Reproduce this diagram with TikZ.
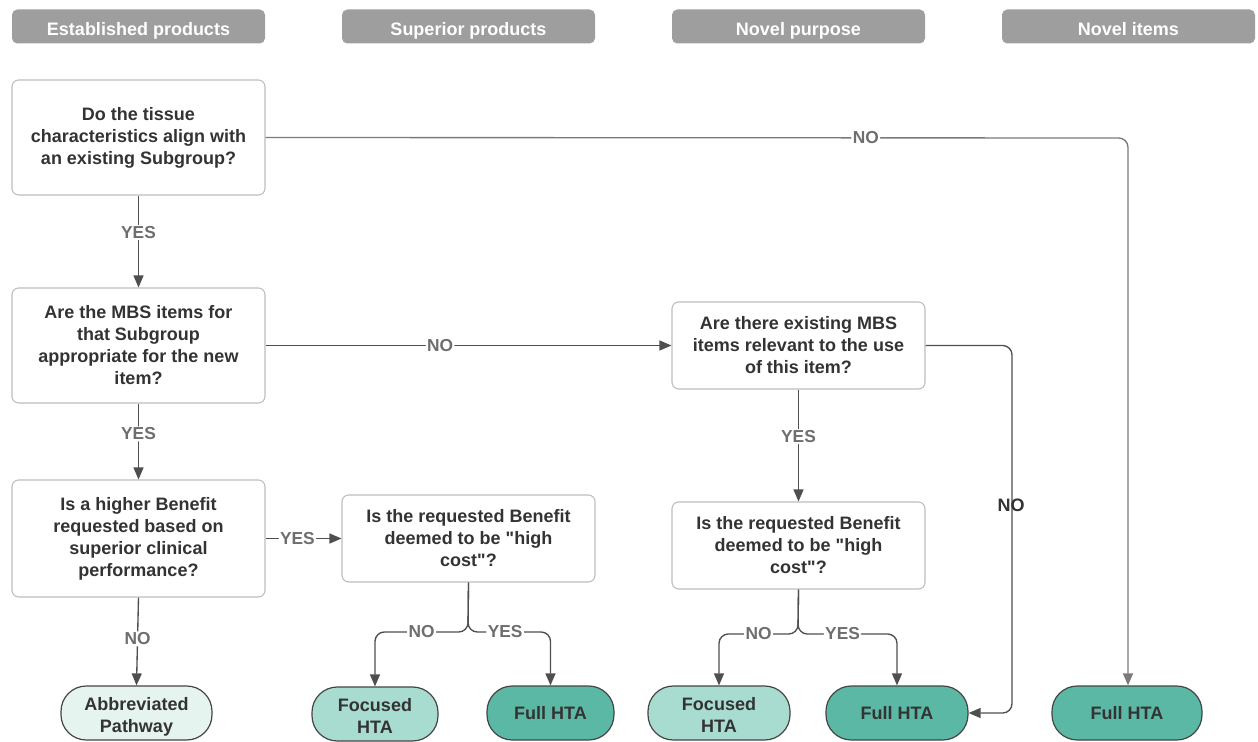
\documentclass[tikz,border=0pt]{standalone}
\usepackage{fontspec}
\setmainfont{Liberation Sans}[Ligatures=TeXOff]
\usetikzlibrary{arrows.meta}
\definecolor{hdr}{HTML}{9E9E9E}
\definecolor{bxline}{HTML}{BDBDBD}
\definecolor{txt}{HTML}{333333}
\definecolor{lbl}{HTML}{6E6E6E}
\definecolor{conn}{HTML}{4F4F4F}
\definecolor{connl}{HTML}{7A7A7A}
\definecolor{tlight}{HTML}{E6F4F0}
\definecolor{tmid}{HTML}{A8DCD1}
\definecolor{tdark}{HTML}{5BB8A5}
\definecolor{tline}{HTML}{444444}
\tikzset{
  hdrbox/.style={fill=hdr, rounded corners=4pt, minimum width=189.75pt, minimum height=25.5pt, text=white, font=\bfseries\fontsize{13.5}{15}\selectfont, inner sep=0pt, text height=13pt, text depth=0pt},
  qbox/.style={draw=bxline, line width=0.8pt, fill=white, rounded corners=5pt, minimum width=189.75pt, align=center, text=txt, font=\bfseries\fontsize{13.5}{16.5}\selectfont, inner sep=0pt},
  term/.style={draw=tline, line width=0.9pt, rounded corners=19pt, minimum height=40.5pt, align=center, text=txt, font=\bfseries\fontsize{13.5}{16.5}\selectfont, inner sep=0pt},
  twoline/.style={text height=28.5pt, text depth=0pt},
  conn/.style={draw=conn, line width=1pt, -{Triangle[length=9pt,width=7.5pt]}, rounded corners=7pt},
  lab/.style={fill=white, text=lbl, font=\bfseries\fontsize{13}{14}\selectfont, inner sep=1pt},
}
\begin{document}
\begin{tikzpicture}[x=0.75pt,y=-0.75pt]
\useasboundingbox (0,0) rectangle (1258,742);
% headers
\node[hdrbox] (h1) at (138.5,26.5) {Established products};
\node[hdrbox] (h2) at (468.5,26.5) {Superior products};
\node[hdrbox] (h3) at (798.5,26.5) {Novel purpose};
\node[hdrbox] (h4) at (1128.5,26.5) {Novel items};
% question boxes
\node[qbox, minimum height=86.25pt] (q1) at (138.5,137.5) {Do the tissue\\characteristics align with\\an existing Subgroup?};
\node[qbox, minimum height=86.25pt] (q2) at (138.5,345.5) {Are the MBS items for\\that Subgroup\\appropriate for the new\\item?};
\node[qbox, minimum height=87.75pt] (q3) at (138.5,538.5) {Is a higher Benefit\\requested based on\\superior clinical\\performance?};
\node[qbox, minimum height=65.25pt] (q4) at (468.5,538.5) {Is the requested Benefit\\deemed to be "high\\cost"?};
\node[qbox, minimum height=65.25pt] (q5) at (798.5,345.5) {Are there existing MBS\\items relevant to the use\\of this item?};
\node[qbox, minimum height=65.25pt] (q6) at (798.5,545.5) {Is the requested Benefit\\deemed to be "high\\cost"?};
% terminals
\node[term, twoline, fill=tlight, minimum width=113.25pt] (t1) at (136.5,713) {Abbreviated\\Pathway};
\node[term, twoline, fill=tmid, minimum width=94.5pt] (t2) at (375,714) {Focused\\HTA};
\node[term, fill=tdark, minimum width=95.25pt] (t3) at (550.5,713) {Full HTA};
\node[term, twoline, fill=tmid, minimum width=106.5pt] (t4) at (719,713) {Focused\\HTA};
\node[term, fill=tdark, minimum width=106.5pt] (t5) at (897,713) {Full HTA};
\node[term, fill=tdark, minimum width=112.5pt] (t6) at (1127,713) {Full HTA};
% connectors
\coordinate (c1) at (1128,138);
\draw[conn, draw=connl] (q1.east) -- node[lab, pos=0.696] {NO} (c1) -- (t6.north -| c1);
\draw[conn] (q1.south) -- node[lab, pos=0.4] {YES} (q2.north);
\draw[conn] (q2.east) -- node[lab, pos=0.43] {NO} (q5.west);
\draw[conn] (q2.south) -- node[lab, pos=0.4] {YES} (q3.north);
\draw[conn] (q3.east) -- node[lab, pos=0.42] {YES} (q4.west);
\draw[conn] (q3.south) -- node[lab, pos=0.47] {NO} (t1.north);
\draw[conn] (q5.south) -- node[lab, pos=0.42] {YES} (q6.north);
% split from q4
\coordinate (s4) at (468,632);
\draw[conn] (q4.south) -- (s4) -- node[lab, pos=0.5] {NO} (s4 -| t2.north) -- (t2.north);
\draw[conn] (q4.south) -- (s4) -- node[lab, pos=0.45] {YES} (s4 -| t3.north) -- (t3.north);
% split from q6
\coordinate (s6) at (798,634);
\draw[conn] (q6.south) -- (s6) -- node[lab, pos=0.5] {NO} (s6 -| t4.north) -- (t4.north);
\draw[conn] (q6.south) -- (s6) -- node[lab, pos=0.45] {YES} (s6 -| t5.north) -- (t5.north);
% q5 NO to full HTA 2
\coordinate (c5) at (1012,345.5);
\draw[conn] (q5.east) -- (c5) -- (c5 |- t5.east) -- (t5.east);
\node[text=txt, font=\bfseries\fontsize{13.5}{15}\selectfont, inner sep=0pt] (nolab) at (1011,505) {NO};
\end{tikzpicture}
\end{document}
